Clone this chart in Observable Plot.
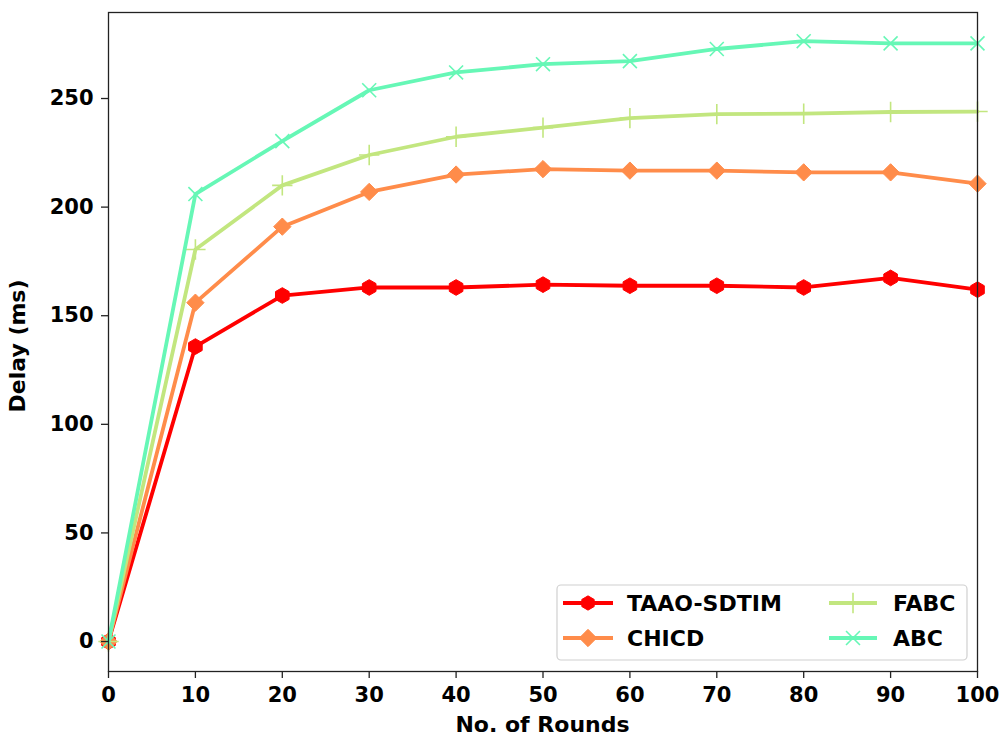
<!DOCTYPE html>
<html>
<head>
<meta charset="utf-8">
<script src="https://cdn.jsdelivr.net/npm/d3@7"></script>
<script src="https://cdn.jsdelivr.net/npm/@observablehq/plot@0.6"></script>
<style>
  html, body { margin: 0; padding: 0; background: #fff; }
  #chart svg { display: block; }
</style>
</head>
<body>
<div id="chart"></div>
<script>
const rounds = [0, 10, 20, 30, 40, 50, 60, 70, 80, 90, 100];
const taao  = [0, 135.8, 159.3, 163.0, 163.0, 164.3, 163.8, 163.8, 163.0, 167.4, 162.0];
const chicd = [0, 156.0, 191.0, 207.0, 215.0, 217.5, 216.8, 216.8, 216.0, 216.0, 210.8];
const fabc  = [0, 180.5, 210.0, 224.0, 232.4, 236.6, 241.0, 242.8, 243.0, 243.8, 244.0];
const abc   = [0, 206.0, 230.4, 253.8, 262.0, 265.8, 267.2, 272.8, 276.4, 275.4, 275.4];
const xTicks = [0, 10, 20, 30, 40, 50, 60, 70, 80, 90, 100];
const yTicks = [0, 50, 100, 150, 200, 250];

const seriesDefs = [
  {name: "TAAO-SDTIM", values: taao,  color: "#ff0000", symbol: "hexagon", r: 6.8, filled: true},
  {name: "CHICD",      values: chicd, color: "#ff8c4a", symbol: "diamond2", r: 7.8, filled: true},
  {name: "FABC",       values: fabc,  color: "#c2e67f", symbol: "plus", r: 6.6, filled: false},
  {name: "ABC",        values: abc,   color: "#66f7b6", symbol: "times", r: 6.4, filled: false}
];

const W = 1003, H = 737;
const mL = 108, mR = 26, mT = 12, mB = 66;
const font = "'DejaVu Sans', sans-serif";

const marks = [];
for (const s of seriesDefs) {
  const data = rounds.map((x, i) => ({x, y: s.values[i]}));
  marks.push(Plot.line(data, {x: "x", y: "y", stroke: s.color, strokeWidth: 3.8}));
  if (s.filled) {
    marks.push(Plot.dot(data, {x: "x", y: "y", symbol: () => s.symbol, fill: s.color, stroke: s.color, strokeWidth: 1, r: s.r}));
  } else {
    marks.push(Plot.dot(data, {x: "x", y: "y", symbol: () => s.symbol, stroke: s.color, strokeWidth: 1.6, r: s.r}));
  }
}

const plot = Plot.plot({
  width: W, height: H,
  marginLeft: mL, marginRight: mR, marginTop: mT, marginBottom: mB,
  style: {fontFamily: font, fontSize: "21px", fontWeight: "bold", color: "#000", background: "#fff"},
  x: {domain: [0, 100]},
  y: {domain: [-13.8, 289.6]},
  symbol: {type: "identity"},
  marks: [
    ...marks,
    Plot.frame({stroke: "#222", strokeWidth: 1.3}),
    Plot.axisX({ticks: xTicks, tickSize: 7, tickPadding: 9, label: null, tickFormat: d => String(d), stroke: "#222", strokeWidth: 1.3}),
    Plot.axisY({ticks: yTicks, tickSize: 7, tickPadding: 8, label: null, tickFormat: d => String(d), stroke: "#222", strokeWidth: 1.3})
  ]
});

document.getElementById("chart").appendChild(plot);

const svg = d3.select(plot);
// Axis labels
svg.append("text")
  .attr("x", (mL + W - mR) / 2).attr("y", 732)
  .attr("text-anchor", "middle")
  .attr("font-family", font).attr("font-size", 22).attr("font-weight", "bold")
  .attr("fill", "#000")
  .text("No. of Rounds");
svg.append("text")
  .attr("transform", `translate(${25},${346}) rotate(-90)`)
  .attr("text-anchor", "middle")
  .attr("font-family", font).attr("font-size", 22).attr("font-weight", "bold")
  .attr("fill", "#000")
  .text("Delay (ms)");

// Legend
const lg = svg.append("g").attr("class", "legend").attr("text-anchor", "start");
lg.append("rect")
  .attr("x", 557).attr("y", 585).attr("width", 410).attr("height", 75)
  .attr("rx", 4).attr("ry", 4)
  .attr("fill", "#fff").attr("fill-opacity", 0.85)
  .attr("stroke", "#d0d0d0").attr("stroke-width", 1.2);
const cols = [
  {lx0: 563, lx1: 613, tx: 627},
  {lx0: 829, lx1: 877, tx: 893}
];
const rowsY = [603, 638];
const symMap = {diamond2: d3.symbolDiamond2, plus: d3.symbolPlus, times: d3.symbolTimes};
seriesDefs.forEach((s, i) => {
  const c = cols[Math.floor(i / 2)];
  const yy = rowsY[i % 2];
  lg.append("line")
    .attr("x1", c.lx0).attr("x2", c.lx1).attr("y1", yy).attr("y2", yy)
    .attr("stroke", s.color).attr("stroke-width", 3.8);
  let path;
  const size = Math.PI * s.r * s.r;
  if (s.symbol === "hexagon") {
    const rr = s.r * 1.05;
    const pts = d3.range(6).map(k => {
      const a = Math.PI / 2 + k * Math.PI / 3;
      return [rr * Math.cos(a), rr * Math.sin(a)];
    });
    path = "M" + pts.map(p => p.join(",")).join("L") + "Z";
  } else {
    path = d3.symbol(symMap[s.symbol], size)();
  }
  lg.append("path")
    .attr("d", path)
    .attr("transform", `translate(${(c.lx0 + c.lx1) / 2},${yy})`)
    .attr("fill", s.filled ? s.color : "none")
    .attr("stroke", s.color)
    .attr("stroke-width", s.filled ? 1 : 1.6);
  lg.append("text")
    .attr("x", c.tx).attr("y", yy).attr("dy", "0.36em")
    .attr("text-anchor", "start")
    .attr("font-family", font).attr("font-size", 22).attr("font-weight", "bold")
    .attr("fill", "#000")
    .text(s.name);
});
</script>
</body>
</html>
